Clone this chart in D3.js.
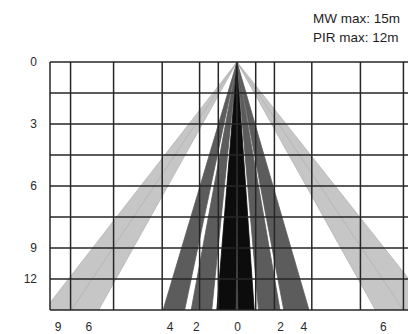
<!DOCTYPE html>
<html>
<head>
<meta charset="utf-8">
<script src="https://cdn.jsdelivr.net/npm/d3@7"></script>
<style>
  body { margin: 0; background: #fff; }
  svg { display: block; }
  .tick text { font-family: "Liberation Sans", Arial, sans-serif; font-size: 12px; fill: #2a2a2a; }
</style>
</head>
<body>
<svg id="chart" width="408" height="334"></svg>
<script>
// detection pattern (schematic units, apex at 0)
const gridX = [-10, -8.9, -6.6, -4, -2, -1, 0, 1, 2, 4, 6.6, 8.9, 10];
const gridRows = [0, 1, 2, 3, 4, 5, 6, 7, 8];

const xTickVals = [-9.6, -7.95, -3.6, -2.2, 0, 2.3, 3.55, 7.8];
const xTickText = ["9", "6", "4", "2", "0", "2", "4", "6"];
const yTickRows = [0, 2, 4, 6, 7];
const yTickText = ["0", "3", "6", "9", "12"];

const beamLeft  = [-10.3, -8.85, -3.95, -2.45, -1.08, 0.06, 1.15, 2.5, 7.4, 8.9];
const beamRight = [-8.85, -7.4, -2.8, -1.35, -0.06, 0.92, 2.3, 3.85, 8.9, 10.5];
const beamType  = ["light", "light", "dark", "dark", "black", "black", "dark", "dark", "light", "light"];

const legendLines = ["MW max: 15m", "PIR max: 12m"];

const svg = d3.select("#chart");

const x = d3.scaleLinear().domain([-10, 10]).range([50, 424]);
const y = d3.scaleLinear().domain([0, 8]).range([62, 310]);

const colour = d3.scaleOrdinal()
  .domain(["light", "dark", "black"])
  .range(["#c6c6c6", "#5c5c5c", "#0c0c0c"]);

svg.append("clipPath").attr("id", "plot-clip")
  .append("rect")
  .attr("x", x(-10)).attr("y", y(0))
  .attr("width", x(10) - x(-10)).attr("height", y(8) - y(0));

// beams
const beams = beamType.map((t, i) => ({ type: t, l: beamLeft[i], r: beamRight[i] }));

svg.append("g")
  .attr("clip-path", "url(#plot-clip)")
  .selectAll("path")
  .data(beams)
  .enter()
  .append("path")
  .attr("d", d => d3.line()([[x(0), y(0)], [x(d.l), y(8)], [x(d.r), y(8)]]) + "Z")
  .attr("fill", d => colour(d.type))
  .attr("stroke", d => d.type == "light" ? "#b4b4b4" : colour(d.type))
  .attr("stroke-width", 0.8);

// grid
const grid = svg.append("g").attr("stroke", "#262626").attr("stroke-width", 1.5);

grid.selectAll("line.v")
  .data(gridX)
  .enter()
  .append("line")
  .attr("class", "v")
  .attr("x1", d => x(d)).attr("x2", d => x(d))
  .attr("y1", y(0)).attr("y2", y(8));

grid.selectAll("line.h")
  .data(gridRows)
  .enter()
  .append("line")
  .attr("class", "h")
  .attr("x1", x(-10)).attr("x2", x(10))
  .attr("y1", d => y(d)).attr("y2", d => y(d));

// axes
svg.append("g")
  .attr("transform", "translate(0," + (y(8) + 9) + ")")
  .call(d3.axisBottom(x).tickValues(xTickVals).tickFormat((d, i) => xTickText[i]).tickSize(0))
  .call(g => g.select(".domain").remove());

svg.append("g")
  .attr("transform", "translate(" + (x(-10) - 10) + ",0)")
  .call(d3.axisLeft(y).tickValues(yTickRows).tickFormat((d, i) => yTickText[i]).tickSize(0))
  .call(g => g.select(".domain").remove());

// legend text (runs off the right edge as in the source)
svg.append("g")
  .selectAll("text")
  .data(legendLines)
  .enter()
  .append("text")
  .attr("x", 313)
  .attr("y", (d, i) => 23 + i * 19)
  .style("font-family", "\"Liberation Sans\", Arial, sans-serif")
  .style("font-size", "13.5px")
  .style("fill", "#1e1e1e")
  .text(d => d);
</script>
</body>
</html>
